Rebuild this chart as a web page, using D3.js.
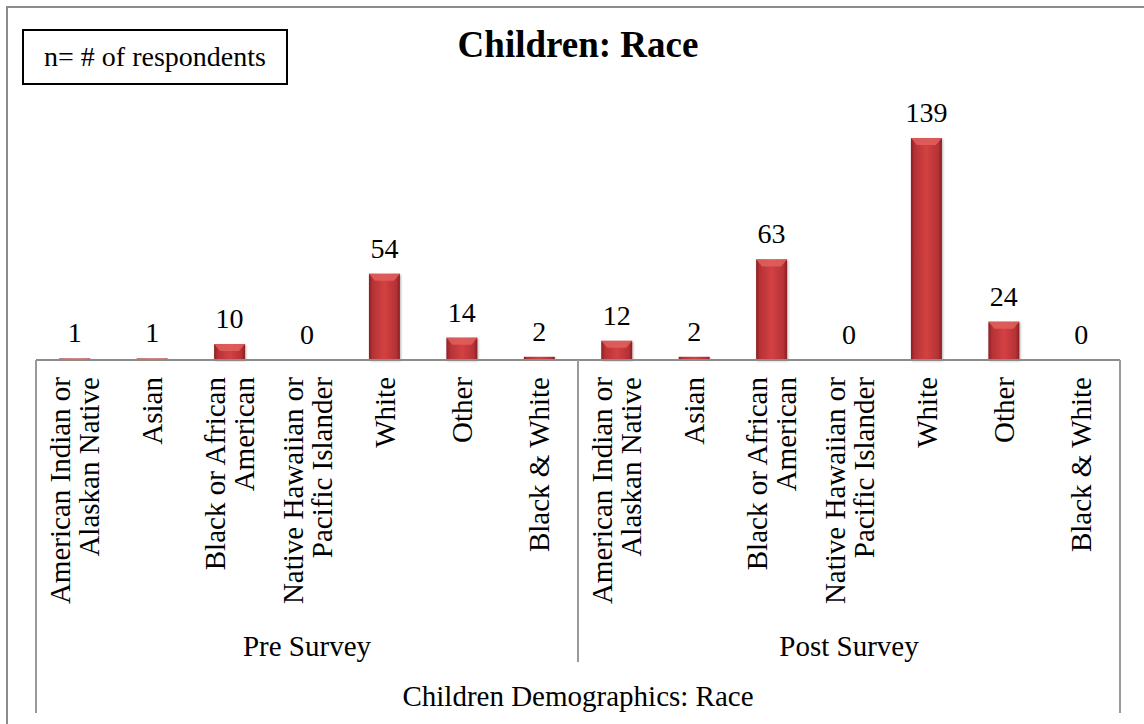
<!DOCTYPE html>
<html>
<head>
<meta charset="utf-8">
<script src="https://cdn.jsdelivr.net/npm/d3@7"></script>
<style>
  html, body { margin: 0; padding: 0; background: #fff; }
  svg { display: block; font-family: "Liberation Serif", "Times New Roman", serif; }
</style>
</head>
<body>
<svg id="chart" width="1144" height="724"></svg>
<script>
const title = "Children: Race";
const axisTitle = "Children Demographics: Race";
const legendText = "n= # of respondents";
const groups = ["Pre Survey", "Post Survey"];
const categories = [
  ["American Indian or", "Alaskan Native"],
  ["Asian"],
  ["Black or African", "American"],
  ["Native Hawaiian or", "Pacific Islander"],
  ["White"],
  ["Other"],
  ["Black & White"]
];
const preValues = [1, 1, 10, 0, 54, 14, 2];
const postValues = [12, 2, 63, 0, 139, 24, 0];
const yMax = 160;

const data = [];
groups.forEach((g, gi) => {
  const vals = gi === 0 ? preValues : postValues;
  categories.forEach((c, ci) => data.push({ key: gi + "-" + ci, group: g, gi, label: c, value: vals[ci] }));
});

const svg = d3.select("#chart");
const left = 36, right = 1120, base = 360;

const x = d3.scaleBand().domain(data.map(d => d.key)).range([left, right])
  .paddingInner(0.6).paddingOuter(0.3);
const y = d3.scaleLinear().domain([0, yMax]).range([base, 104.5]);

// gradient
const defs = svg.append("defs");
const grad = defs.append("linearGradient").attr("id", "barGrad").attr("x1", "0").attr("x2", "1").attr("y1", "0").attr("y2", "0");
[[0, "#8a2023"], [0.12, "#b53235"], [0.5, "#d34143"], [0.88, "#b53235"], [1, "#8a2023"]]
  .forEach(([o, c]) => grad.append("stop").attr("offset", o).attr("stop-color", c));
const shadow = defs.append("filter").attr("id", "shadow").attr("x", "-30%").attr("y", "-10%").attr("width", "160%").attr("height", "120%");
shadow.append("feDropShadow").attr("dx", 1).attr("dy", 1).attr("stdDeviation", 1.2).attr("flood-color", "#000").attr("flood-opacity", 0.3);

// outer border
svg.append("rect").attr("x", 7).attr("y", 7).attr("width", 1170).attr("height", 740)
  .attr("fill", "none").attr("stroke", "#8c8c8c").attr("stroke-width", 2);

// title
svg.append("text").attr("x", 578).attr("y", 57).attr("text-anchor", "middle")
  .attr("font-size", 37).attr("font-weight", "bold").attr("fill", "#000").text(title);

// legend box
svg.append("rect").attr("x", 23).attr("y", 30).attr("width", 264).attr("height", 54)
  .attr("fill", "#fff").attr("stroke", "#000").attr("stroke-width", 2);
svg.append("text").attr("x", 155).attr("y", 66).attr("text-anchor", "middle")
  .attr("font-size", 28).attr("fill", "#000").text(legendText);

// bars
const bw = x.bandwidth();
const bars = svg.append("g").selectAll("g").data(data.filter(d => d.value > 0)).join("g");
bars.append("rect")
  .attr("x", d => x(d.key)).attr("y", d => y(d.value))
  .attr("width", bw).attr("height", d => base - y(d.value))
  .attr("fill", "url(#barGrad)").attr("filter", "url(#shadow)");
bars.filter(d => base - y(d.value) > 10).append("polygon")
  .attr("points", d => {
    const x0 = x(d.key), t = y(d.value), b = 7, s = 6;
    return [[x0, t], [x0 + bw, t], [x0 + bw - s, t + b], [x0 + s, t + b]].map(p => p.join(",")).join(" ");
  })
  .attr("fill", "#e0605d").attr("opacity", 0.85);

// value labels
svg.append("g").selectAll("text").data(data).join("text")
  .attr("x", d => x(d.key) + bw / 2).attr("y", d => y(d.value) - 16)
  .attr("text-anchor", "middle").attr("font-size", 28).attr("fill", "#000")
  .text(d => d.value);

// axis lines
const axisColor = "#9a9a9a";
const axis = svg.append("g");
axis.append("line").attr("x1", left).attr("x2", right).attr("y1", base).attr("y2", base)
  .attr("stroke", "#8c8c8c").attr("stroke-width", 2);
axis.append("line").attr("x1", left).attr("x2", left).attr("y1", base).attr("y2", 713)
  .attr("stroke", axisColor).attr("stroke-width", 2);
axis.append("line").attr("x1", right).attr("x2", right).attr("y1", base).attr("y2", 713)
  .attr("stroke", axisColor).attr("stroke-width", 2);
const mid = (x(data[6].key) + bw + x(data[7].key)) / 2;
axis.append("line").attr("x1", mid).attr("x2", mid).attr("y1", base).attr("y2", 662)
  .attr("stroke", axisColor).attr("stroke-width", 2);

// category labels (rotated)
const lineGap = 29;
const cat = svg.append("g").selectAll("g").data(data).join("g")
  .attr("transform", d => `translate(${x(d.key) + bw / 2},377)`);
cat.each(function(d) {
  const n = d.label.length;
  const g = d3.select(this);
  d.label.forEach((line, i) => {
    const off = (i - (n - 1) / 2) * lineGap;
    g.append("text").attr("transform", `translate(${off},0) rotate(-90)`)
      .attr("text-anchor", "end").attr("dy", "0.35em")
      .attr("font-size", 29).attr("fill", "#000").text(line);
  });
});

// group labels
groups.forEach((g, gi) => {
  const cx = gi === 0 ? (left + mid) / 2 : (mid + right) / 2;
  svg.append("text").attr("x", cx).attr("y", 656).attr("text-anchor", "middle")
    .attr("font-size", 29).attr("fill", "#000").text(g);
});

// axis title
svg.append("text").attr("x", (left + right) / 2).attr("y", 706).attr("text-anchor", "middle")
  .attr("font-size", 29).attr("fill", "#000").text(axisTitle);
</script>
</body>
</html>
